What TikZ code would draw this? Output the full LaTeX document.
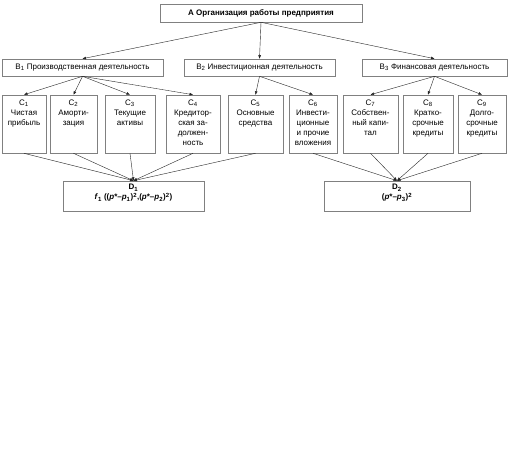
\documentclass[tikz,border=0pt]{standalone}
\usepackage{fontspec}
\setmainfont{Liberation Sans}
\usetikzlibrary{arrows.meta}
\definecolor{boxgray}{HTML}{808080}
\begin{document}
\begin{tikzpicture}[x=1pt,y=-1pt,
  font=\fontsize{8}{10}\selectfont,
  box/.style={draw=boxgray, line width=0.6pt, inner sep=0pt, align=center},
  txt/.style={inner sep=0pt, align=center, anchor=north},
  conn/.style={-{Triangle[length=3.5pt,width=2.6pt]}, line width=0.4pt, draw=black!85}
]
\fill[white] (0,0) rectangle (510,472);
\useasboundingbox (0,0) rectangle (510,472);

% top
\node[box, minimum width=202pt, minimum height=18pt] (a) at (261,13) {\textbf{А Организация работы предприятия}};

% B level
\node[box, minimum width=161pt, minimum height=17pt] (b1) at (82.5,67.5) {B\textsubscript{1} Производственная деятельность};
\node[box, minimum width=151pt, minimum height=17pt] (b2) at (259.5,67.5) {B\textsubscript{2} Инвестиционная деятельность};
\node[box, minimum width=145pt, minimum height=17pt] (b3) at (434.5,67.5) {B\textsubscript{3} Финансовая деятельность};

% C level boxes
\node[box, minimum width=44pt, minimum height=58pt] (c1) at (24,124) {};
\node[box, minimum width=47pt, minimum height=58pt] (c2) at (73.5,124) {};
\node[box, minimum width=50pt, minimum height=58pt] (c3) at (130,124) {};
\node[box, minimum width=54pt, minimum height=58pt] (c4) at (193,124) {};
\node[box, minimum width=55pt, minimum height=58pt] (c5) at (255.5,124) {};
\node[box, minimum width=48pt, minimum height=58pt] (c6) at (313,124) {};
\node[box, minimum width=55pt, minimum height=58pt] (c7) at (370.5,124) {};
\node[box, minimum width=50pt, minimum height=58pt] (c8) at (428,124) {};
\node[box, minimum width=48pt, minimum height=58pt] (c9) at (482,124) {};

% C texts
\node[txt] (t1) at ([yshift=-5pt]c1.north) {C\textsubscript{1}\\Чистая\\прибыль};
\node[txt] (t2) at ([yshift=-5pt]c2.north) {C\textsubscript{2}\\Аморти-\\зация};
\node[txt] (t3) at ([yshift=-5pt]c3.north) {C\textsubscript{3}\\Текущие\\активы};
\node[txt] (t4) at ([yshift=-5pt]c4.north) {C\textsubscript{4}\\Кредитор-\\ская за-\\должен-\\ность};
\node[txt] (t5) at ([yshift=-5pt]c5.north) {C\textsubscript{5}\\Основные\\средства};
\node[txt] (t6) at ([yshift=-5pt]c6.north) {C\textsubscript{6}\\Инвести-\\ционные\\и прочие\\вложения};
\node[txt] (t7) at ([yshift=-5pt]c7.north) {C\textsubscript{7}\\Собствен-\\ный капи-\\тал};
\node[txt] (t8) at ([yshift=-5pt]c8.north) {C\textsubscript{8}\\Кратко-\\срочные\\кредиты};
\node[txt] (t9) at ([yshift=-5pt]c9.north) {C\textsubscript{9}\\Долго-\\срочные\\кредиты};

% D level
\node[box, minimum width=141pt, minimum height=30pt] (d1) at (133.5,196) {};
\node[box, minimum width=146pt, minimum height=30pt] (d2) at (397,196) {};
\node[txt] (dt1) at ([yshift=-3.5pt]d1.north) {\textbf{D\textsubscript{1}}\\\textbf{\textit{f}\textsubscript{1} ((\textit{p}*–\textit{p}\textsubscript{1})\textsuperscript{2},(\textit{p}*–\textit{p}\textsubscript{2})\textsuperscript{2})}};
\node[txt] (dt2) at ([yshift=-3.5pt]d2.north) {\textbf{D\textsubscript{2}}\\\textbf{(\textit{p}*–\textit{p}\textsubscript{3})\textsuperscript{2}}};

% connectors A -> B
\foreach \b in {b1,b2,b3} \draw[conn] (a.south) -- (\b.north);
% B -> C
\foreach \c in {c1,c2,c3,c4} \draw[conn] (b1.south) -- (\c.north);
\foreach \c in {c5,c6} \draw[conn] (b2.south) -- (\c.north);
\foreach \c in {c7,c8,c9} \draw[conn] (b3.south) -- (\c.north);
% C -> D
\foreach \c in {c1,c2,c3,c4,c5} \draw[conn] (\c.south) -- (d1.north);
\foreach \c in {c6,c7,c8,c9} \draw[conn] (\c.south) -- (d2.north);
\end{tikzpicture}
\end{document}
